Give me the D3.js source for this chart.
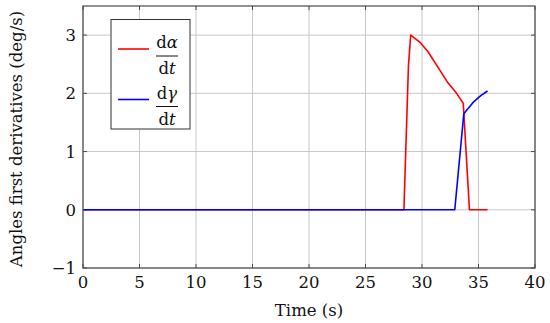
<!DOCTYPE html>
<html>
<head>
<meta charset="utf-8">
<script src="https://cdn.jsdelivr.net/npm/d3@7"></script>
<style>
  body { margin: 0; background: #fff; }
  text { font-family: "DejaVu Serif", "Liberation Serif", serif; }
</style>
</head>
<body>
<div class="chartWrapper"></div>
<script>
const width = 550, height = 323;
const margin = { top: 6, right: 15, bottom: 55, left: 83 };

// data
const alphaTime = [0, 28.4, 28.8, 29.0, 29.8, 30.55, 32.3, 33.06, 33.65, 34.2, 35.8];
const alphaRate = [0, 0, 2.47, 3.0, 2.88, 2.71, 2.18, 2.0, 1.83, 0, 0];
const gammaTime = [0, 32.9, 33.7, 34.5, 35.2, 35.8];
const gammaRate = [0, 0, 1.65, 1.84, 1.96, 2.04];
const xTicks = [0, 5, 10, 15, 20, 25, 30, 35, 40];
const yTicks = [-1, 0, 1, 2, 3];

const svg = d3.select(".chartWrapper").append("svg")
  .attr("width", width)
  .attr("height", height);

const x = d3.scaleLinear().domain([0, 40]).range([margin.left, width - margin.right]);
const y = d3.scaleLinear().domain([-1, 3.5]).range([height - margin.bottom, margin.top]);

const gridColor = "#c8c8c8";
const axisColor = "#4a4a4a";
const fontSize = 16.5;

// grid
svg.append("g").selectAll("line").data(xTicks).join("line")
  .attr("x1", d => x(d)).attr("x2", d => x(d))
  .attr("y1", y(-1)).attr("y2", y(3.5))
  .attr("stroke", gridColor).attr("stroke-width", 1);
svg.append("g").selectAll("line").data(yTicks).join("line")
  .attr("x1", x(0)).attr("x2", x(40))
  .attr("y1", d => y(d)).attr("y2", d => y(d))
  .attr("stroke", gridColor).attr("stroke-width", 1);

// inward ticks on all sides
const tickLen = 4;
const ticks = svg.append("g").attr("stroke", axisColor).attr("stroke-width", 1);
xTicks.forEach(t => {
  ticks.append("line").attr("x1", x(t)).attr("x2", x(t)).attr("y1", y(-1)).attr("y2", y(-1) - tickLen);
  ticks.append("line").attr("x1", x(t)).attr("x2", x(t)).attr("y1", y(3.5)).attr("y2", y(3.5) + tickLen);
});
yTicks.forEach(t => {
  ticks.append("line").attr("x1", x(0)).attr("x2", x(0) + tickLen).attr("y1", y(t)).attr("y2", y(t));
  ticks.append("line").attr("x1", x(40)).attr("x2", x(40) - tickLen).attr("y1", y(t)).attr("y2", y(t));
});

// tick labels
svg.append("g").selectAll("text").data(xTicks).join("text")
  .attr("x", d => x(d)).attr("y", y(-1) + 20)
  .attr("text-anchor", "middle").attr("font-size", fontSize).attr("fill", "#111")
  .text(d => d);
svg.append("g").selectAll("text").data(yTicks).join("text")
  .attr("x", x(0) - 7).attr("y", d => y(d) + 6)
  .attr("text-anchor", "end").attr("font-size", fontSize).attr("fill", "#111")
  .text(d => d < 0 ? "\u2212" + Math.abs(d) : d);

// series
const line = d3.line().x(d => x(d[0])).y(d => y(d[1]));
svg.append("path")
  .datum(d3.zip(alphaTime, alphaRate))
  .attr("d", line).attr("fill", "none")
  .attr("stroke", "#ff0000").attr("stroke-width", 1.6).attr("stroke-linejoin", "round");
svg.append("path")
  .datum(d3.zip(gammaTime, gammaRate))
  .attr("d", line).attr("fill", "none")
  .attr("stroke", "#0000ff").attr("stroke-width", 1.6).attr("stroke-linejoin", "round");

// frame
svg.append("rect")
  .attr("x", x(0)).attr("y", y(3.5))
  .attr("width", x(40) - x(0)).attr("height", y(-1) - y(3.5))
  .attr("fill", "none").attr("stroke", axisColor).attr("stroke-width", 1.2);

// axis labels
svg.append("text")
  .attr("x", (x(0) + x(40)) / 2).attr("y", 316)
  .attr("text-anchor", "middle").attr("font-size", fontSize).attr("fill", "#111")
  .text("Time (s)");
svg.append("text")
  .attr("transform", `translate(22,${(y(-1) + y(3.5)) / 2 + 2}) rotate(-90)`)
  .attr("text-anchor", "middle").attr("font-size", fontSize).attr("fill", "#111")
  .text("Angles first derivatives (deg/s)");

// legend
const legend = svg.append("g");
legend.append("rect")
  .attr("x", 111).attr("y", 19.5).attr("width", 79).attr("height", 109.5)
  .attr("fill", "#fff").attr("stroke", "#333").attr("stroke-width", 1);

const entries = [
  { color: "#ff0000", sym: "\u03b1", cy: 49 },
  { color: "#0000ff", sym: "\u03b3", cy: 99.5 }
];
entries.forEach(e => {
  legend.append("line")
    .attr("x1", 118).attr("x2", 149).attr("y1", e.cy).attr("y2", e.cy)
    .attr("stroke", e.color).attr("stroke-width", 1.6);
  legend.append("line")
    .attr("x1", 156).attr("x2", 178).attr("y1", e.cy + 7).attr("y2", e.cy + 7)
    .attr("stroke", "#111").attr("stroke-width", 1);
  const num = legend.append("text")
    .attr("x", 167).attr("y", e.cy - 1)
    .attr("text-anchor", "middle").attr("font-size", fontSize).attr("fill", "#111");
  num.append("tspan").text("d");
  num.append("tspan").attr("font-style", "italic").text(e.sym);
  const den = legend.append("text")
    .attr("x", 167).attr("y", e.cy + 25)
    .attr("text-anchor", "middle").attr("font-size", fontSize).attr("fill", "#111");
  den.append("tspan").text("d");
  den.append("tspan").attr("font-style", "italic").text("t");
});
</script>
</body>
</html>
